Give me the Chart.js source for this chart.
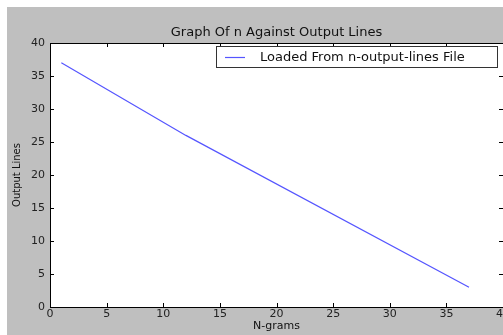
<!DOCTYPE html>
<html lang="en">
<head>
  <meta charset="UTF-8">
  <title>Graph Of n Against Output Lines</title>
  <script src="https://cdn.jsdelivr.net/npm/chart.js"></script>
  <style>
    html, body { margin: 0; padding: 0; background: white; }
    .frame {
      position: absolute;
      left: 7px;
      top: 7px;
      width: 496px;
      height: 328px;
      background: #bfbfbf;
    }
  </style>
</head>
<body>
  <div class="frame">
    <canvas id="chart" width="496" height="328"></canvas>
  </div>

  <script>
    // data
    const nGrams = [1, 12, 37];
    const outputLines = [37, 26, 3];
    const xTicks = [0, 5, 10, 15, 20, 25, 30, 35, 40];
    const yTicks = [0, 5, 10, 15, 20, 25, 30, 35, 40];
    const seriesLabel = 'Loaded From n-output-lines File';

    const FONT = 'DejaVu Sans';

    // white axes background, inward tick marks, frame and legend box (matplotlib look)
    const mplDecor = {
      id: 'mplDecor',
      beforeDraw(chart) {
        const a = chart.chartArea;
        chart.ctx.save();
        chart.ctx.fillStyle = 'white';
        chart.ctx.fillRect(a.left, a.top, a.right - a.left, a.bottom - a.top);
        chart.ctx.restore();
      },
      afterDraw(chart) {
        const ctx = chart.ctx;
        const a = chart.chartArea;
        const xs = chart.scales.x, ys = chart.scales.y;
        ctx.save();
        ctx.strokeStyle = '#000';
        ctx.lineWidth = 1;
        ctx.beginPath();
        xTicks.forEach(v => {
          const px = Math.round(xs.getPixelForValue(v)) + 0.5;
          ctx.moveTo(px, a.bottom); ctx.lineTo(px, a.bottom - 4);
          ctx.moveTo(px, a.top); ctx.lineTo(px, a.top + 4);
        });
        yTicks.forEach(v => {
          const py = Math.round(ys.getPixelForValue(v)) + 0.5;
          ctx.moveTo(a.left, py); ctx.lineTo(a.left + 4, py);
          ctx.moveTo(a.right, py); ctx.lineTo(a.right - 4, py);
        });
        ctx.stroke();
        ctx.strokeRect(Math.round(a.left) + 0.5, Math.round(a.top) + 0.5,
                       Math.round(a.right - a.left), Math.round(a.bottom - a.top));

        // legend
        const ds = chart.data.datasets[0];
        ctx.fillStyle = 'white';
        ctx.fillRect(209.5, 39.5, 281, 21);
        ctx.strokeStyle = '#333';
        ctx.strokeRect(209.5, 39.5, 281, 21);
        ctx.strokeStyle = ds.borderColor;
        ctx.lineWidth = ds.borderWidth;
        ctx.beginPath();
        ctx.moveTo(218, 50.5); ctx.lineTo(238, 50.5);
        ctx.stroke();
        ctx.fillStyle = '#111';
        ctx.font = '13px "' + FONT + '"';
        ctx.textBaseline = 'middle';
        ctx.fillText(ds.label, 253, 50.5);
        ctx.restore();
      }
    };

    new Chart(document.getElementById('chart'), {
      type: 'line',
      data: {
        datasets: [{
          label: seriesLabel,
          data: nGrams.map((n, i) => ({ x: n, y: outputLines[i] })),
          borderColor: '#5555ff',
          borderWidth: 1.2,
          pointRadius: 0,
          fill: false,
          tension: 0
        }]
      },
      options: {
        responsive: false,
        animation: false,
        layout: { padding: { left: 0, right: 0, top: 0, bottom: 0 } },
        plugins: {
          legend: { display: false },
          tooltip: { enabled: false },
          title: {
            display: true,
            text: 'Graph Of n Against Output Lines',
            fullSize: false,
            color: '#111',
            font: { family: FONT, size: 13, weight: 'normal' },
            padding: { top: 18, bottom: 2.4 }
          }
        },
        scales: {
          x: {
            type: 'linear',
            min: 0,
            max: 40,
            afterBuildTicks: s => { s.ticks = xTicks.map(v => ({ value: v })); },
            afterFit: s => { s.height = 28; s.paddingLeft = 0; s.paddingRight = 0; },
            grid: { display: false, drawTicks: false },
            border: { display: false },
            ticks: {
              color: '#222',
              padding: 1,
              maxRotation: 0,
              font: { family: FONT, size: 11 }
            },
            title: {
              display: true,
              text: 'N-grams',
              color: '#111',
              font: { family: FONT, size: 11 },
              padding: { top: 0, bottom: 2 }
            }
          },
          y: {
            type: 'linear',
            min: 0,
            max: 40,
            afterBuildTicks: s => { s.ticks = yTicks.map(v => ({ value: v })); },
            afterFit: s => { s.width = 43; s.paddingTop = 0; s.paddingBottom = 0; },
            grid: { display: false, drawTicks: false },
            border: { display: false },
            ticks: {
              color: '#222',
              padding: 5,
              font: { family: FONT, size: 11 }
            },
            title: {
              display: true,
              text: 'Output Lines',
              color: '#111',
              font: { family: FONT, size: 10 },
              padding: { top: 4, bottom: 0 }
            }
          }
        }
      },
      plugins: [mplDecor]
    });
  </script>
</body>
</html>
